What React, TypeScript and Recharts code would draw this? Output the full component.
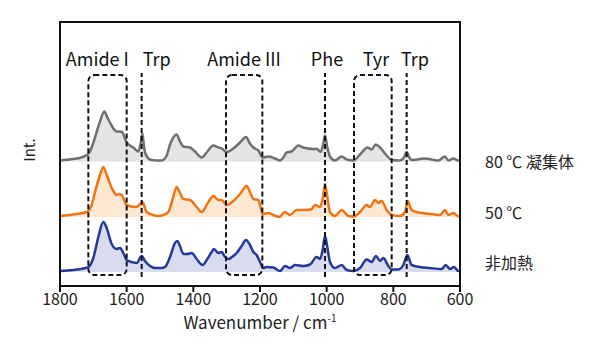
import React from "react";
import {
  ComposedChart,
  Area,
  XAxis,
  YAxis,
  ReferenceArea,
  ReferenceLine,
  ReferenceDot,
} from "recharts";

// ---- data ----
const blueWn = [1800, 1760, 1730, 1715, 1700, 1685, 1670, 1660, 1645, 1630, 1620, 1610, 1600, 1585, 1570, 1555, 1545, 1530, 1515, 1495, 1485, 1470, 1455, 1448, 1440, 1430, 1418, 1405, 1390, 1372, 1360, 1345, 1338, 1325, 1315, 1305, 1295, 1280, 1270, 1255, 1242, 1230, 1220, 1210, 1200, 1190, 1180, 1160, 1140, 1125, 1110, 1095, 1070, 1050, 1030, 1020, 1012, 1005, 998, 990, 975, 955, 940, 920, 900, 880, 865, 852, 840, 830, 815, 805, 785, 770, 758, 745, 720, 690, 655, 643, 630, 618, 605, 600];
const blueInt = [1, 2, 3.5, 5, 14, 35, 50, 44, 28, 23, 24, 19, 12, 10, 9, 16, 11, 6, 4, 4, 5, 15, 29, 31, 26, 18, 18, 19, 13, 7, 12, 20, 23, 19, 20, 15, 13, 16, 19, 26, 32, 27, 20, 17, 10, 4, 5, 4.5, 1, 6, 4, 7, 6, 7.5, 15, 13, 22, 36, 25, 10, 4, 7, 2, 1, 4, 12.5, 10, 16, 11, 14, 6, 2.5, 2.5, 7, 17, 7, 5, 4, 3, 7, 3, 5, 1, 1];

const orangeWn = [1800, 1760, 1720, 1705, 1695, 1680, 1670, 1660, 1650, 1640, 1630, 1622, 1615, 1605, 1600, 1575, 1565, 1553, 1540, 1520, 1505, 1490, 1475, 1462, 1450, 1440, 1430, 1410, 1390, 1375, 1355, 1340, 1325, 1315, 1300, 1280, 1260, 1240, 1230, 1220, 1205, 1192, 1175, 1160, 1142, 1125, 1110, 1090, 1060, 1045, 1035, 1020, 1012, 1005, 998, 990, 975, 955, 935, 920, 900, 880, 870, 855, 845, 835, 820, 805, 780, 765, 757, 745, 730, 715, 685, 660, 645, 635, 620, 605, 600];
const orangeInt = [1, 2.5, 5, 12, 25, 42, 50, 42, 33, 26, 22, 23, 22, 15, 12, 10, 11, 15, 5, 2, 1, 2, 5, 18, 30, 24, 18, 17, 10, 5, 15, 21, 17, 17, 12, 16, 23, 31, 25, 18, 17, 3, 4, 2, 0, 5, 2, 7, 7, 8, 12, 10, 18, 33, 20, 5, 1, 7, 1, 0.5, 5, 12, 10, 17, 14, 16, 7, 2, 1, 5, 16, 7, 5, 4, 3, 2, 7, 2, 4, 0.5, 0.5];

const grayWn = [1800, 1760, 1745, 1717, 1705, 1695, 1680, 1667, 1658, 1650, 1640, 1630, 1622, 1615, 1600, 1590, 1580, 1565, 1558, 1553, 1548, 1545, 1530, 1510, 1495, 1480, 1470, 1458, 1450, 1440, 1430, 1410, 1395, 1375, 1360, 1340, 1325, 1315, 1300, 1280, 1260, 1242, 1230, 1220, 1205, 1192, 1175, 1155, 1140, 1130, 1120, 1105, 1085, 1070, 1055, 1040, 1030, 1018, 1010, 1005, 998, 990, 975, 955, 940, 920, 900, 877, 865, 853, 840, 820, 805, 780, 768, 760, 752, 745, 720, 705, 685, 665, 645, 635, 620, 605, 600];
const grayInt = [1, 2.5, 3.3, 7, 14, 24, 40, 50, 44, 39, 33, 30, 30, 29.7, 19, 16, 14, 10, 18, 28, 15, 9, 2, 1, 1, 6, 17, 25, 27, 20, 15, 14, 10, 4, 9, 16, 14, 13, 9.5, 13, 19, 24.5, 18, 14, 11, 4, 5, 3, 1, 4, 9, 10, 16, 14, 13, 12.5, 12.7, 9.7, 18, 26, 14, 5, 1, 5, 2, 1, 7, 14, 12, 17, 14, 6, 1.5, 1, 4, 9.5, 4, 1.5, 2.5, 3, 2, 1, 5, 1, 3, 1, 1];

const seriesLabels = ["80 ℃ 凝集体", "50 ℃", "非加熱"];
const seriesOffsets = [124.5, 69, 14];
const labelYs = [124, 73, 23];

const xTicks = [1800, 1600, 1400, 1200, 1000, 800, 600];

const boxes = [
  { x1: 1715, x2: 1600 },
  { x1: 1302, x2: 1193 },
  { x1: 918, x2: 805 },
];
const lines = [1555, 1005, 760];
const bandLabels = [
  { x: 1688, text: "Amide I" },
  { x: 1510, text: "Trp" },
  { x: 1248, text: "Amide III" },
  { x: 999, text: "Phe" },
  { x: 852, text: "Tyr" },
  { x: 735, text: "Trp" },
];

const build = (wn: number[], v: number[], off: number) =>
  wn.map((x, i) => ({ x, y: off + v[i] }));

const grayData = build(grayWn, grayInt, seriesOffsets[0]);
const orangeData = build(orangeWn, orangeInt, seriesOffsets[1]);
const blueData = build(blueWn, blueInt, seriesOffsets[2]);

const FONT = '"Noto Sans CJK JP", "Noto Sans", sans-serif';

const DashedBox = (p: any) => (
  <rect
    x={p.x}
    y={p.y}
    width={p.width}
    height={p.height}
    rx={6}
    ry={6}
    fill="none"
    stroke="#111"
    strokeWidth={2}
    strokeDasharray="5 3"
  />
);

export default function App() {
  return (
    <div style={{ fontFamily: FONT }}>
      <ComposedChart
        width={600}
        height={350}
        margin={{ top: 14, right: 148, bottom: 22, left: 52 }}
      >
        <XAxis
          dataKey="x"
          type="number"
          domain={[600, 1800]}
          reversed
          ticks={xTicks}
          allowDataOverflow
          axisLine={false}
          tickLine={{ stroke: "#111", strokeWidth: 2 }}
          tickSize={6}
          tickMargin={2}
          tick={{ fill: "#222", fontSize: 16 }}
          height={50}
          label={{
            content: (props: any) => {
              const vb = props.viewBox;
              return (
                <text
                  x={vb.x + vb.width / 2}
                  y={vb.y + 43}
                  textAnchor="middle"
                  fontSize={17}
                  fill="#222"
                >
                  Wavenumber / cm
                  <tspan dy={-7} fontSize={10}>
                    -1
                  </tspan>
                </text>
              );
            },
          }}
        />
        <YAxis type="number" domain={[0, 264]} hide allowDataOverflow />

        <Area
          data={grayData}
          dataKey="y"
          type="monotone"
          baseValue={seriesOffsets[0]}
          stroke="#707070"
          strokeWidth={2.5}
          fill="#e4e4e4"
          fillOpacity={1}
          isAnimationActive={false}
        />
        <Area
          data={orangeData}
          dataKey="y"
          type="monotone"
          baseValue={seriesOffsets[1]}
          stroke="#f07414"
          strokeWidth={2.5}
          fill="#fde8d4"
          fillOpacity={1}
          isAnimationActive={false}
        />
        <Area
          data={blueData}
          dataKey="y"
          type="monotone"
          baseValue={seriesOffsets[2]}
          stroke="#253a98"
          strokeWidth={2.5}
          fill="#d9dcef"
          fillOpacity={1}
          isAnimationActive={false}
        />

        {boxes.map((b, i) => (
          <ReferenceArea
            key={"b" + i}
            x1={b.x1}
            x2={b.x2}
            y1={11}
            y2={211}
            shape={DashedBox}
            ifOverflow="visible"
          />
        ))}
        {lines.map((x, i) => (
          <ReferenceLine
            key={"l" + i}
            segment={[
              { x, y: 9 },
              { x, y: 213 },
            ]}
            stroke="#111"
            strokeWidth={2}
            strokeDasharray="5 3"
          />
        ))}

        {bandLabels.map((l, i) => (
          <ReferenceDot
            key={"t" + i}
            x={l.x}
            y={226}
            r={0}
            fill="none"
            stroke="none"
            ifOverflow="visible"
            label={{ value: l.text, position: "center", fontSize: 18, fill: "#111" }}
          />
        ))}

        {seriesLabels.map((s, i) => (
          <ReferenceDot
            key={"s" + i}
            x={525}
            y={labelYs[i]}
            r={0}
            fill="none"
            stroke="none"
            ifOverflow="visible"
            label={{ value: s, position: "right", offset: 0, fontSize: 16, fill: "#222" }}
          />
        ))}

        <ReferenceDot
          x={1890}
          y={136}
          r={0}
          fill="none"
          stroke="none"
          ifOverflow="visible"
          label={{ value: "Int.", position: "center", angle: -90, fontSize: 15, fill: "#222" }}
        />

        <ReferenceArea
          x1={1800}
          x2={600}
          y1={0}
          y2={264}
          fill="none"
          fillOpacity={0}
          stroke="#111"
          strokeWidth={2}
          ifOverflow="visible"
        />
      </ComposedChart>
    </div>
  );
}
